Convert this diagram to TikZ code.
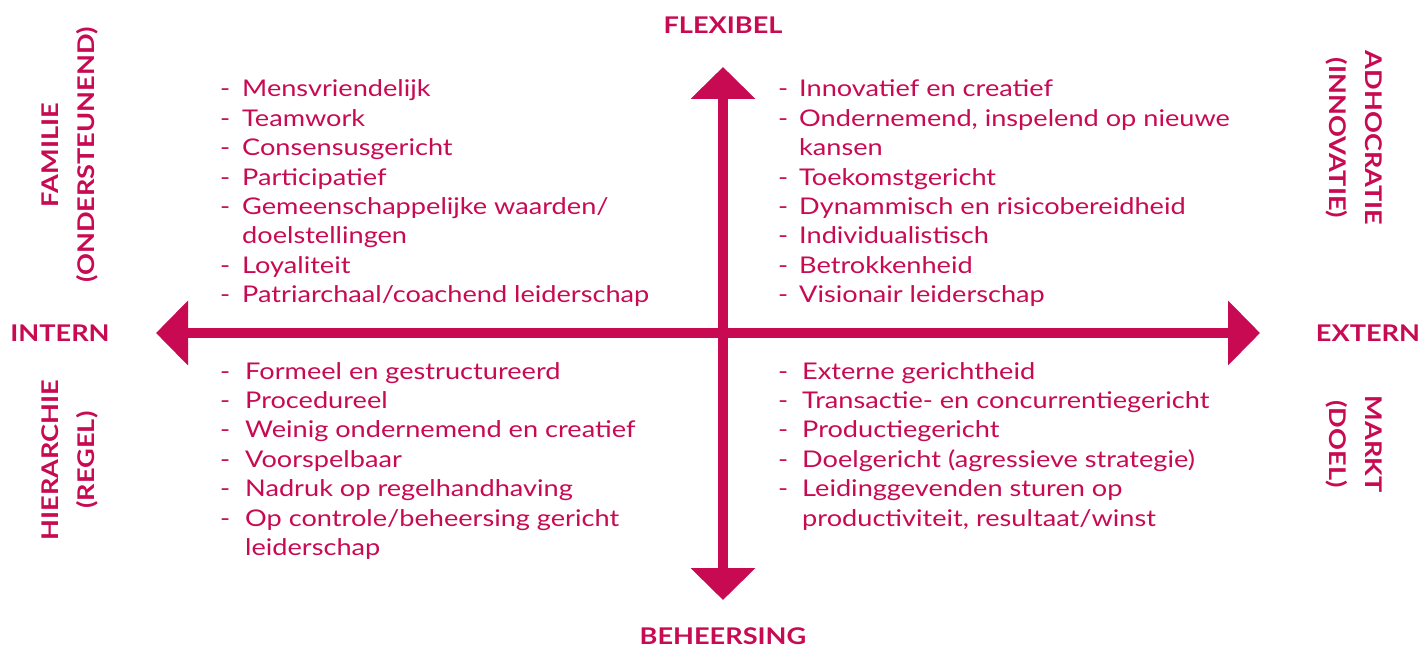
\documentclass[tikz,border=0pt]{standalone}
\usepackage{fontspec}
\setmainfont{Lato}[FakeStretch=1.18]
\usepackage{tikz}
\usetikzlibrary{arrows.meta, positioning}

\definecolor{cqred}{RGB}{200,10,82}

\newcommand{\quadlist}[2]{%
  \begin{tabular}[t]{@{}p{#1}@{}l@{}}#2\end{tabular}}

\tikzset{
  axis/.style={line width=10pt, cqred,
    {Triangle[width=63pt,length=32pt]}-{Triangle[width=63pt,length=32pt]}},
  axislabel/.style={text=cqred, inner sep=0pt,
    font=\fontsize{23}{36}\selectfont\bfseries},
  sidelabel/.style={axislabel, align=center},
  itemlist/.style={text=cqred, inner sep=0pt, anchor=base west,
    font=\fontsize{23}{29.4}\selectfont}
}

\begin{document}
\begin{tikzpicture}[x=1pt, y=-1pt]
  \useasboundingbox (0,0) rectangle (1424,647);

  % axes
  \coordinate (top) at (723,67);
  \coordinate (bottom) at (723,600);
  \coordinate (left) at (156,333);
  \coordinate (right) at (1260,333);
  \draw[axis] (left) -- (right);
  \draw[axis] (bottom) -- (top);

  % axis ends
  \node[axislabel] (flexibel) at (723,25) {FLEXIBEL};
  \node[axislabel] (beheersing) at (723,636) {BEHEERSING};
  \node[axislabel] (intern) at (60,333) {INTERN};
  \node[axislabel] (extern) at (1368,333) {EXTERN};

  % culture types
  \node[sidelabel, rotate=90] (familie) at (70,155) {FAMILIE\\(ONDERSTEUNEND)};
  \node[sidelabel, rotate=90] (hierarchie) at (70,460) {HIERARCHIE\\(REGEL)};
  \node[sidelabel, rotate=-90] (adhocratie) at (1354,138) {ADHOCRATIE\\(INNOVATIE)};
  \node[sidelabel, rotate=-90] (markt) at (1354,444) {MARKT\\(DOEL)};

  % quadrant texts
  \node[itemlist] (famlist) at (220,97) {\quadlist{22pt}{%
    - & Mensvriendelijk\\
    - & Teamwork\\
    - & Consensusgericht\\
    - & Participatief\\
    - & Gemeenschappelijke waarden/\\
      & doelstellingen\\
    - & Loyaliteit\\
    - & Patriarchaal/coachend leiderschap}};

  \node[itemlist] (adhlist) at (778,97) {\quadlist{21pt}{%
    - & Innovatief en creatief\\
    - & Ondernemend, inspelend op nieuwe\\
      & kansen\\
    - & Toekomstgericht\\
    - & Dynammisch en risicobereidheid\\
    - & Individualistisch\\
    - & Betrokkenheid\\
    - & Visionair leiderschap}};

  \node[itemlist] (hierlist) at (220,379) {\quadlist{25pt}{%
    - & Formeel en gestructureerd\\
    - & Procedureel\\
    - & Weinig ondernemend en creatief\\
    - & Voorspelbaar\\
    - & Nadruk op regelhandhaving\\
    - & Op controle/beheersing gericht\\
      & leiderschap}};

  \node[itemlist] (marktlist) at (778,379) {\quadlist{24pt}{%
    - & Externe gerichtheid\\
    - & Transactie- en concurrentiegericht\\
    - & Productiegericht\\
    - & Doelgericht (agressieve strategie)\\
    - & Leidinggevenden sturen op\\
      & productiviteit, resultaat/winst}};
\end{tikzpicture}
\end{document}
